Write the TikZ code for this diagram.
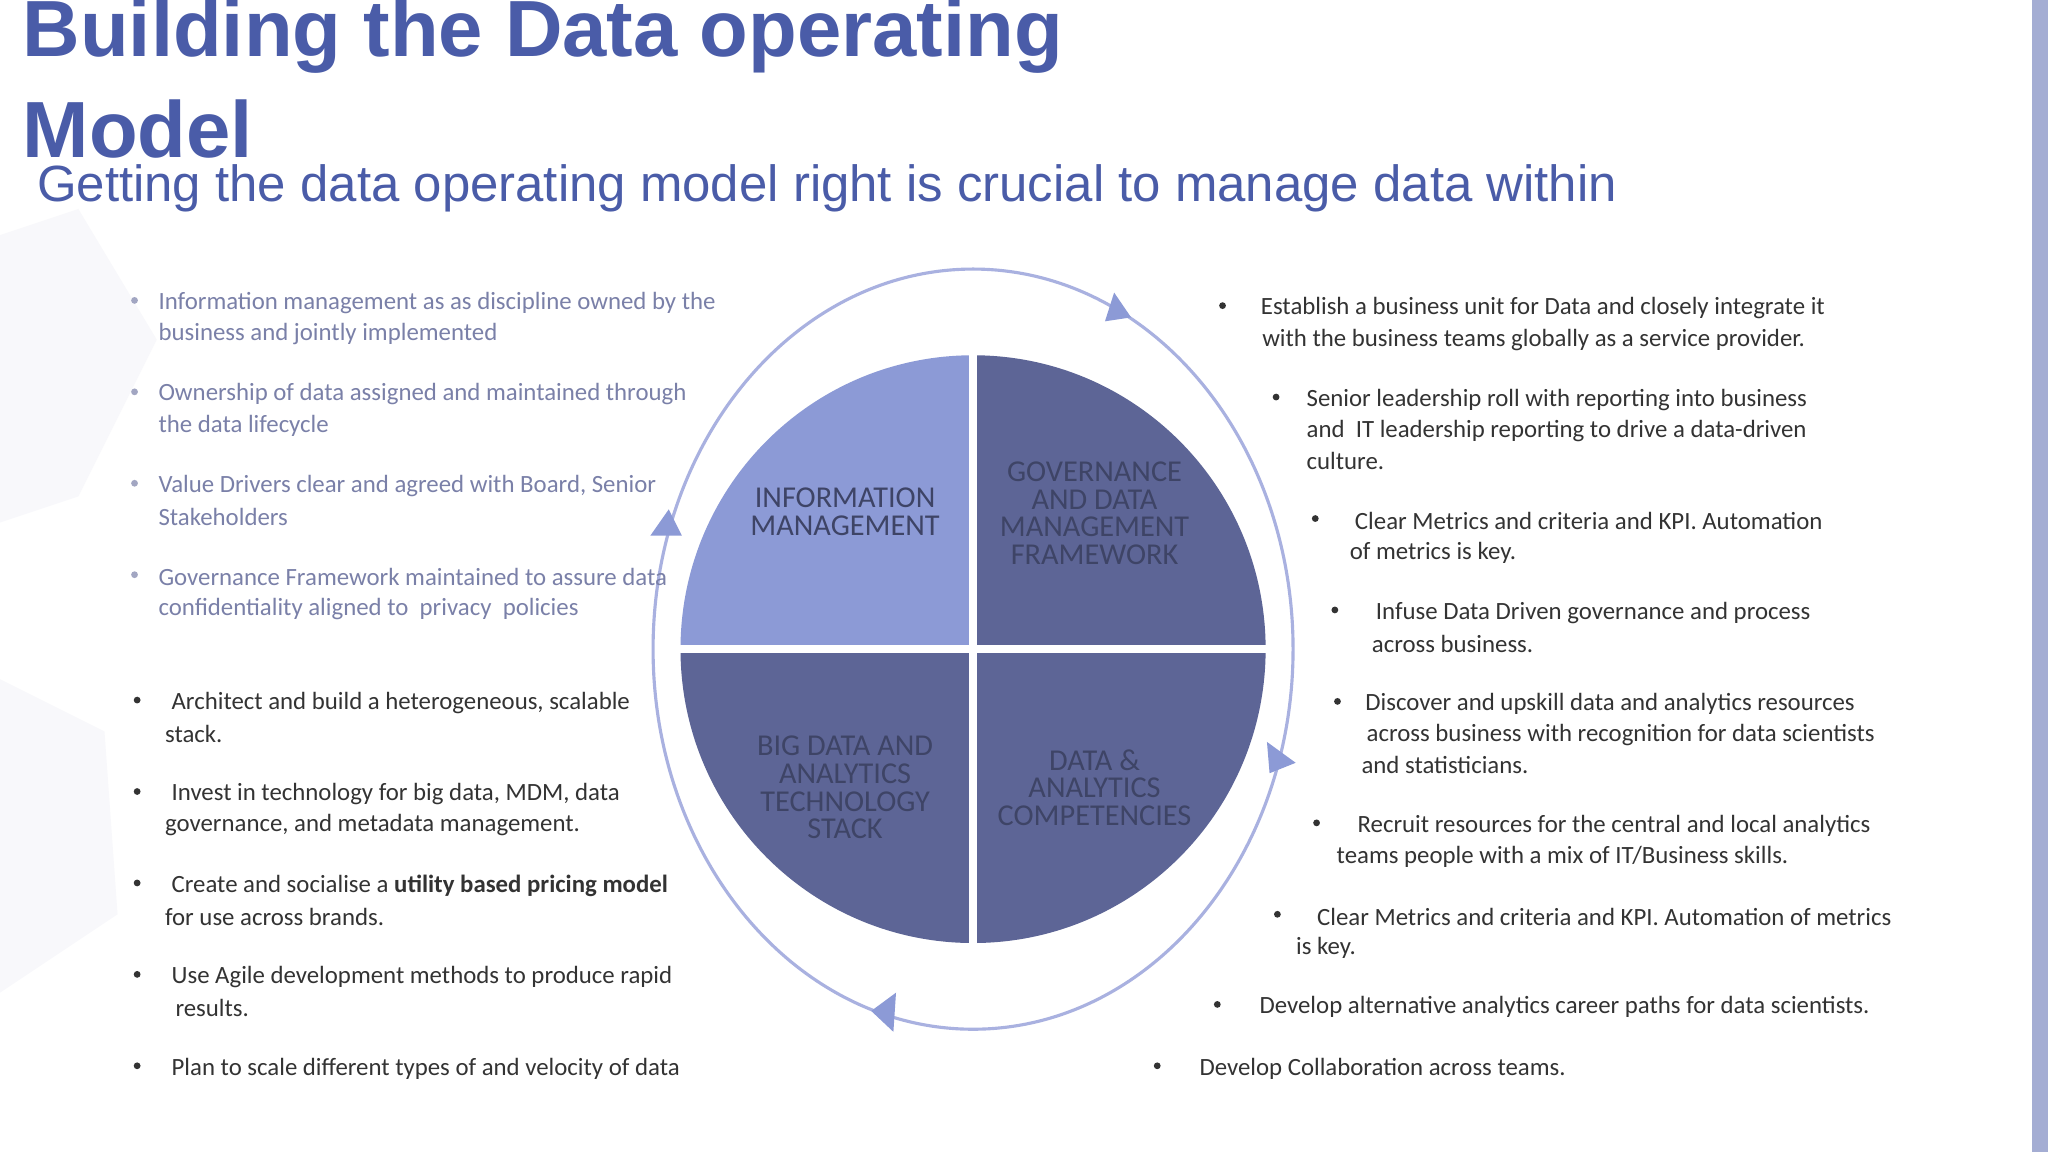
\documentclass[tikz,border=0pt]{standalone}
\usepackage{fontspec}
\setmainfont{Carlito}
\newfontfamily\titlefont{Liberation Sans}
\definecolor{tblue}{HTML}{4A5CA8}
\definecolor{lightq}{HTML}{8C9AD6}
\definecolor{darkq}{HTML}{5D6596}
\definecolor{qtext}{HTML}{3E4466}
\definecolor{fadetext}{HTML}{7A80A8}
\definecolor{body}{HTML}{333333}
\definecolor{ring}{HTML}{A9B1E0}
\tikzset{
  tl/.style={anchor=west,inner sep=0pt,font=\fontsize{9.5pt}{10pt}\selectfont,text=body},
  fl/.style={tl,text=fadetext},
  qt/.style={align=center,font=\fontsize{11.6pt}{10.6pt}\selectfont,text=qtext,inner sep=0pt},
  dot/.style={circle,fill=body,inner sep=0pt,minimum size=2.6pt},
  fdot/.style={circle,fill=fadetext!70,inner sep=0pt,minimum size=2.6pt},
  tip/.style={fill=lightq,draw=none}
}
\newcommand{\tline}[4][tl]{\node[#1] at (#2,#3) {#4};}
\newcommand{\bdot}[3][dot]{\node[#1] at (#2,#3) {};}
\begin{document}
\begin{tikzpicture}[x=0.5pt,y=-0.5pt]
\useasboundingbox (0,0) rectangle (1568,882);
\fill[white] (0,0) rectangle (1568,882);
% faint background shapes
\fill[tblue!4] (0,180) -- (60,160) -- (120,260) -- (60,380) -- (0,400) -- cycle;
\fill[tblue!4] (0,520) -- (80,560) -- (90,700) -- (0,760) -- cycle;
\fill[tblue!50] (1556,0) rectangle (1568,882);
% title
\node[anchor=west,inner sep=0pt,font=\titlefont\bfseries\fontsize{30.5pt}{32pt}\selectfont,text=tblue] (t1) at (17,28) {Building the Data operating};
\node[anchor=west,inner sep=0pt,font=\titlefont\bfseries\fontsize{30.5pt}{32pt}\selectfont,text=tblue] (t2) at (17,99) {Model};
\node[anchor=west,inner sep=0pt,font=\titlefont\fontsize{19.5pt}{21pt}\selectfont,text=tblue] (st) at (28,144) {Getting the data operating model right is crucial to manage data within};
% ring
\draw[ring,line width=1.2pt] (745,497) ellipse [x radius=245,y radius=291];
\fill[tip] (846,246) -- (866,243) -- (853,224) -- cycle;
\fill[tip] (498,410) -- (522,410) -- (512,390) -- cycle;
\fill[tip] (970,568) -- (992,584) -- (972,592) -- cycle;
\fill[tip] (686,760) -- (667,774) -- (684,790) -- cycle;
% quadrants
\begin{scope}
\clip (745,497) ellipse [x radius=224,y radius=225];
\fill[lightq] (500,260) rectangle (742,494);
\fill[darkq] (748,260) rectangle (990,494);
\fill[darkq] (500,500) rectangle (742,740);
\fill[darkq] (748,500) rectangle (990,740);
\end{scope}
\node[qt] (q1) at (647,392) {INFORMATION\\MANAGEMENT};
\node[qt] (q2) at (838,393) {GOVERNANCE\\AND DATA\\MANAGEMENT\\FRAMEWORK};
\node[qt] (q3) at (647,603) {BIG DATA AND\\ANALYTICS\\TECHNOLOGY\\STACK};
\node[qt] (q4) at (838,603) {DATA \&\\ANALYTICS\\COMPETENCIES};
% left top (faded)
\bdot[fdot]{103}{230}\tline[fl]{121}{232}{Information management as as discipline owned by the}\tline[fl]{121}{256}{business and jointly implemented}
\bdot[fdot]{103}{300}\tline[fl]{121}{302}{Ownership of data assigned and maintained through}\tline[fl]{121}{326}{the data lifecycle}
\bdot[fdot]{103}{370}\tline[fl]{121}{372}{Value Drivers clear and agreed with Board, Senior}\tline[fl]{121}{396}{Stakeholders}
\bdot[fdot]{103}{440}\tline[fl]{121}{442}{Governance Framework maintained to assure data}\tline[fl]{121}{466}{confidentiality aligned to\ \ privacy\ \ policies}
% left bottom
\bdot{105}{536}\tline{131}{538}{Architect and build a heterogeneous, scalable}\tline{126}{562}{stack.}
\bdot{105}{606}\tline{131}{608}{Invest in technology for big data, MDM, data}\tline{126}{632}{governance, and metadata management.}
\bdot{105}{676}\tline{131}{678}{Create and socialise a \textbf{utility based pricing model}}\tline{126}{702}{for use across brands.}
\bdot{105}{746}\tline{131}{748}{Use Agile development methods to produce rapid}\tline{134}{772}{results.}
\bdot{105}{816}\tline{131}{818}{Plan to scale different types of and velocity of data}
% right
\bdot{936}{234}\tline{965}{236}{Establish a business unit for Data and closely integrate it}\tline{966}{260}{with the business teams globally as a service provider.}
\bdot{977}{304}\tline{1000}{306}{Senior leadership roll with reporting into business}\tline{1000}{330}{and\ \ IT leadership reporting to drive a data-driven}\tline{1000}{353}{culture.}
\bdot{1007}{397}\tline{1037}{399}{Clear Metrics and criteria and KPI. Automation}\tline{1033}{423}{of metrics is key.}
\bdot{1022}{467}\tline{1053}{469}{Infuse Data Driven governance and process}\tline{1050}{493}{across business.}
\bdot{1024}{537}\tline{1045}{539}{Discover and upskill data and analytics resources}\tline{1046}{563}{across business with recognition for data scientists}\tline{1042}{586}{and statisticians.}
\bdot{1008}{630}\tline{1039}{632}{Recruit resources for the central and local analytics}\tline{1023}{656}{teams people with a mix of IT/Business skills.}
\bdot{978}{700}\tline{1008}{702}{Clear Metrics and criteria and KPI. Automation of metrics}\tline{992}{726}{is key.}
\bdot{932}{769}\tline{964}{771}{Develop alternative analytics career paths for data scientists.}
\bdot{886}{816}\tline{918}{818}{Develop Collaboration across teams.}
\end{tikzpicture}
\end{document}
